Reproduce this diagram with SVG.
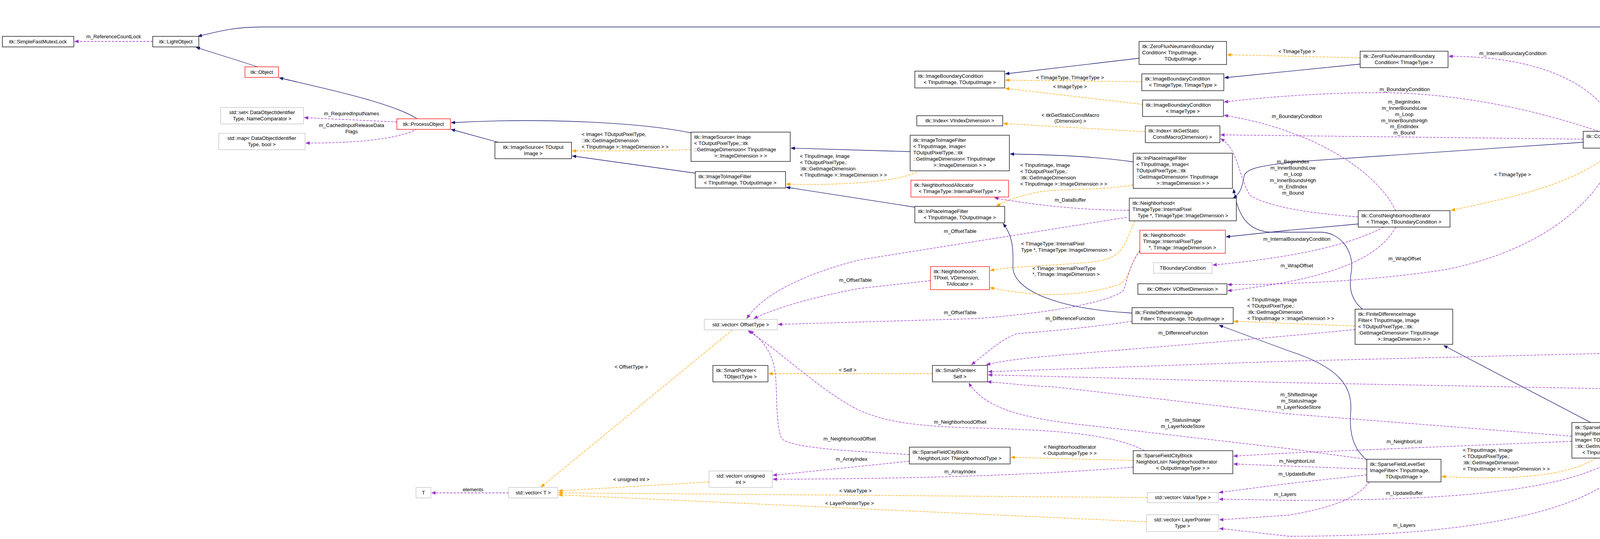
<svg xmlns="http://www.w3.org/2000/svg" width="6315" height="1379" viewBox="0 0 6315 1379">
<style>
.n rect{fill:#fff;stroke:#000;stroke-width:1.3}
.r rect{stroke:#ff0000}
.g rect{stroke:#bfbfbf}
.sel rect{fill:#bfbfbf}
text{font-family:"Liberation Sans",Arial,sans-serif;font-size:13px;fill:#000}
.m{text-anchor:middle}
.b{fill:none;stroke:#191970;stroke-width:1.3;marker-end:url(#ab)}
.o{fill:none;stroke:#ffa500;stroke-width:1.3;stroke-dasharray:6,3;marker-end:url(#ao)}
.p{fill:none;stroke:#9a32cd;stroke-width:1.3;stroke-dasharray:6,3;marker-end:url(#ap)}
</style>
<defs>
<marker id="ab" markerWidth="11" markerHeight="9" refX="10" refY="4.5" orient="auto" markerUnits="userSpaceOnUse"><path d="M0,0 L11,4.5 L0,9 z" fill="#191970"/></marker>
<marker id="ao" markerWidth="11" markerHeight="9" refX="10" refY="4.5" orient="auto" markerUnits="userSpaceOnUse"><path d="M0,0 L11,4.5 L0,9 z" fill="#ffa500"/></marker>
<marker id="ap" markerWidth="11" markerHeight="9" refX="10" refY="4.5" orient="auto" markerUnits="userSpaceOnUse"><path d="M0,0 L11,4.5 L0,9 z" fill="#9a32cd"/></marker>
</defs>
<rect width="6315" height="1379" fill="#fff"/>
<g id="connectors">
<path class="b" d="M660,171 L502,121"/>
<path class="b" d="M1068,304 C1000,260 800,220 715,199"/>
<path class="b" d="M1275,364 L1155,331"/>
<path class="b" d="M1769,340 C1650,315 1400,300 1155,314"/>
<path class="b" d="M1780,443 L1465,399"/>
<path class="b" d="M2330,388 C2200,384 2100,381 2025,379"/>
<path class="b" d="M2342,530 L2013,479"/>
<path class="b" d="M2901,414 C2800,400 2700,396 2586,394"/>
<path class="b" d="M2898,801 C2700,790 2590,740 2593,680 C2595,630 2590,600 2568,572"/>
<path class="b" d="M3488,791 C3450,760 3455,720 3460,690 C3465,640 3430,594 3380,594 L3250,594 C3200,590 3170,560 3158,484"/>
<path class="b" d="M4072,1081 L3696,884"/>
<path class="b" d="M5817,996 C5700,1060 5550,1099 5400,1099 L4500,1099 C4420,1100 4350,1106 4302,1112"/>
<path class="b" d="M6056,942 L6007,948"/>
<path class="b" d="M3499,1177 C3455,1140 3455,1090 3458,1050 C3462,990 3430,940 3300,898 L3121,832"/>
<path class="b" d="M4958,153 L4655,153"/>
<path class="b" d="M4493,132 C4420,100 4300,69 4177,69 L673,69 C600,69 560,80 507,93"/>
<path class="b" d="M5403,937 L5046,177"/>
<path class="b" d="M2916,149 L2574,189"/>
<path class="b" d="M3482,164 L3135,199"/>
<path class="b" d="M4053,364 L3300,415 C3230,425 3190,430 3185,450 C3180,480 3175,495 3157,507"/>
<path class="b" d="M3477,573 L3300,589 L3139,606"/>

<path class="o" d="M1769,383 C1650,386 1550,386 1465,386"/>
<path class="o" d="M2347,440 C2300,465 2150,475 2013,471"/>
<path class="o" d="M2901,473 C2800,490 2700,480 2640,495 C2600,505 2570,515 2551,528"/>
<path class="o" d="M2923,209 L2574,205"/>
<path class="o" d="M2925,267 L2574,226"/>
<path class="o" d="M2932,337 L2569,316"/>
<path class="o" d="M3482,148 L3142,140"/>
<path class="o" d="M4132,381 C4050,470 3850,510 3715,538"/>
<path class="o" d="M2905,565 C2880,620 2880,660 2800,670 C2700,680 2600,680 2535,692"/>
<path class="o" d="M2918,640 C2890,680 2890,720 2860,730 C2760,760 2650,760 2535,736"/>
<path class="o" d="M1875,844 L1385,1246"/>
<path class="o" d="M1815,1233 L1430,1256"/>
<path class="o" d="M2937,1273 L1430,1261"/>
<path class="o" d="M2935,1335 L1430,1266"/>
<path class="o" d="M2387,956 L1968,956"/>
<path class="o" d="M2901,1178 L2588,1170"/>
<path class="o" d="M3469,834 L3159,822"/>
<path class="o" d="M4085,1172 C4000,1230 3800,1225 3691,1219"/>
<path class="o" d="M4910,964 L4643,966"/>

<path class="p" d="M391,106 L191,106"/>
<path class="p" d="M1016,312 L779,301"/>
<path class="p" d="M1068,330 C1030,350 950,366 783,366"/>
<path class="p" d="M4455,44 L4201,22"/>
<path class="p" d="M4958,136 L4658,75"/>
<path class="p" d="M4508,177 L4212,336"/>
<path class="p" d="M4142,336 C4100,220 3950,144 3709,144"/>
<path class="p" d="M4092,336 C3900,270 3700,237 3530,237 C3400,237 3250,247 3134,261"/>
<path class="p" d="M4053,356 L3125,345"/>
<path class="p" d="M4142,381 C4080,550 3900,650 3700,690 C3500,720 3300,728 3143,728"/>
<path class="p" d="M3573,539 C3520,430 3350,330 3134,295"/>
<path class="p" d="M3477,555 C3350,545 3250,530 3200,500 C3170,450 3170,380 3125,355"/>
<path class="p" d="M3542,581 C3450,630 3300,660 3105,678"/>
<path class="p" d="M3573,581 C3520,680 3350,720 3143,744"/>
<path class="p" d="M2891,538 C2750,538 2620,520 2546,506"/>
<path class="p" d="M2884,556 L2200,665 C2100,690 1960,740 1912,815"/>
<path class="p" d="M2382,718 L2200,738 C2080,760 1980,790 1930,815"/>
<path class="p" d="M2918,642 C2890,680 2885,720 2877,742 C2850,770 2700,800 2500,815 L1992,830"/>
<path class="p" d="M2898,822 C2700,850 2620,850 2600,855 C2560,870 2530,900 2487,933"/>
<path class="p" d="M3469,843 C3200,870 2800,900 2700,910 C2600,918 2560,925 2525,933"/>
<path class="p" d="M6056,907 C5950,897 5800,897 5600,897 L4400,897 L3300,924 L2530,951"/>
<path class="p" d="M5304,988 C5200,1005 5100,1009 5000,1008 L4400,1000 L3300,979 L2530,959"/>
<path class="p" d="M4024,1116 L3300,1059 L2700,990 C2600,985 2560,978 2528,977"/>
<path class="p" d="M3499,1175 L3300,1148 L2800,1090 C2600,1070 2520,1040 2480,980"/>
<path class="p" d="M3499,1200 L3158,1187"/>
<path class="p" d="M4024,1129 L3300,1159 L3158,1167"/>
<path class="p" d="M3499,1215 L3300,1237 L3121,1260"/>
<path class="p" d="M4140,1172 C4000,1260 3700,1280 3300,1280 L3121,1277"/>
<path class="p" d="M3505,1233 C3470,1280 3400,1300 3300,1318 L3122,1330"/>
<path class="p" d="M4180,1172 C4100,1300 3800,1372 3300,1372 L3122,1352"/>
<path class="p" d="M5752,967 L5535,967"/>
<path class="p" d="M5304,966 L5162,966"/>
<path class="p" d="M2328,1163 L2200,1155 C2120,1150 2010,1140 2000,1120 C1985,1080 1990,1000 1985,960 C1980,900 1950,870 1920,846"/>
<path class="p" d="M2930,1153 C2850,1110 2700,1100 2500,1095 C2300,1090 2250,1070 2200,1050 C2100,1000 2000,900 1915,846"/>
<path class="p" d="M2328,1180 L1979,1216"/>
<path class="p" d="M2901,1195 C2700,1212 2400,1225 1979,1226"/>
<path class="p" d="M1302,1261 L1105,1261"/>

<text class="m" x="291" y="98">m_ReferenceCountLock</text>
<text class="m" x="900" y="295">m_RequiredInputNames</text>
<text class="m" x="900" y="325">m_CachedInputReleaseData</text>
<text class="m" x="900" y="341">Flags</text>
<text x="1489" y="348">&lt; Image&lt; TOutputPixelType,</text>
<text x="1489" y="364">::itk::GetImageDimension</text>
<text x="1489" y="380">&lt; TInputImage &gt;::ImageDimension &gt; &gt;</text>
<text x="2048" y="404">&lt; TInputImage, Image</text>
<text x="2048" y="420">&lt; TOutputPixelType,:</text>
<text x="2048" y="436">:itk::GetImageDimension</text>
<text x="2048" y="452">&lt; TInputImage &gt;::ImageDimension &gt; &gt;</text>
<text x="2612" y="427">&lt; TInputImage, Image</text>
<text x="2612" y="443">&lt; TOutputPixelType,:</text>
<text x="2612" y="459">:itk::GetImageDimension</text>
<text x="2612" y="475">&lt; TInputImage &gt;::ImageDimension &gt; &gt;</text>
<text x="3193" y="771">&lt; TInputImage, Image</text>
<text x="3193" y="787">&lt; TOutputPixelType,:</text>
<text x="3193" y="803">:itk::GetImageDimension</text>
<text x="3193" y="819">&lt; TInputImage &gt;::ImageDimension &gt; &gt;</text>
<text x="3745" y="1156">&lt; TInputImage, Image</text>
<text x="3745" y="1172">&lt; TOutputPixelType,:</text>
<text x="3745" y="1188">:itk::GetImageDimension</text>
<text x="3745" y="1204">&lt; TInputImage &gt;::ImageDimension &gt; &gt;</text>
<text class="m" x="2739" y="203">&lt; TImageType, TImageType &gt;</text>
<text class="m" x="2739" y="226">&lt; ImageType &gt;</text>
<text class="m" x="2740" y="299">&lt; itkGetStaticConstMacro</text>
<text class="m" x="2740" y="314">(Dimension) &gt;</text>
<text class="m" x="3320" y="136">&lt; TImageType &gt;</text>
<text class="m" x="3872" y="451">&lt; TImageType &gt;</text>
<text class="m" x="2740" y="516">m_DataBuffer</text>
<text class="m" x="2458" y="596">m_OffsetTable</text>
<text x="2614" y="628">&lt; TImageType::InternalPixel</text>
<text x="2614" y="644">Type *, TImageType::ImageDimension &gt;</text>
<text x="2643" y="691">&lt; TImage::InternalPixelType</text>
<text x="2643" y="706">*, TImage::ImageDimension &gt;</text>
<text class="m" x="2190" y="721">m_OffsetTable</text>
<text class="m" x="2458" y="804">m_OffsetTable</text>
<text class="m" x="3873" y="141">m_InternalBoundaryCondition</text>
<text class="m" x="3596" y="233">m_BoundaryCondition</text>
<text class="m" x="3595" y="265">m_BeginIndex</text>
<text class="m" x="3595" y="281">m_InnerBoundsLow</text>
<text class="m" x="3595" y="297">m_Loop</text>
<text class="m" x="3595" y="313">m_InnerBoundsHigh</text>
<text class="m" x="3595" y="328">m_EndIndex</text>
<text class="m" x="3595" y="344">m_Bound</text>
<text class="m" x="3320" y="302">m_BoundaryCondition</text>
<text class="m" x="3310" y="418">m_BeginIndex</text>
<text class="m" x="3310" y="434">m_InnerBoundsLow</text>
<text class="m" x="3310" y="450">m_Loop</text>
<text class="m" x="3310" y="466">m_InnerBoundsHigh</text>
<text class="m" x="3310" y="482">m_EndIndex</text>
<text class="m" x="3310" y="498">m_Bound</text>
<text class="m" x="3320" y="616">m_InternalBoundaryCondition</text>
<text class="m" x="3596" y="666">m_WrapOffset</text>
<text class="m" x="3320" y="684">m_WrapOffset</text>
<text class="m" x="4380" y="216">m_Radius</text>
<text class="m" x="4380" y="31">m_InternalArray</text>
<text class="m" x="4784" y="76">m_ZeroVectorConstant</text>
<text class="m" x="1616" y="943">&lt; OffsetType &gt;</text>
<text class="m" x="1616" y="1231">&lt; unsigned int &gt;</text>
<text class="m" x="2190" y="1260">&lt; ValueType &gt;</text>
<text class="m" x="2175" y="1292">&lt; LayerPointerType &gt;</text>
<text class="m" x="2170" y="951">&lt; Self &gt;</text>
<text class="m" x="1211" y="1257">elements</text>
<text class="m" x="2175" y="1127">m_NeighborhoodOffset</text>
<text class="m" x="2458" y="1084">m_NeighborhoodOffset</text>
<text class="m" x="2180" y="1179">m_ArrayIndex</text>
<text class="m" x="2458" y="1211">m_ArrayIndex</text>
<text class="m" x="2739" y="1148">&lt; NeighborhoodIterator</text>
<text class="m" x="2739" y="1164">&lt; OutputImageType &gt; &gt;</text>
<text class="m" x="2740" y="819">m_DifferenceFunction</text>
<text class="m" x="3029" y="856">m_DifferenceFunction</text>
<text class="m" x="4558" y="892">m_ThresholdFunction</text>
<text class="m" x="4164" y="957">m_VectorInterpolator</text>
<text class="m" x="4164" y="973">m_AdvectionImage</text>
<text class="m" x="4164" y="989">m_Interpolator</text>
<text class="m" x="3325" y="1014">m_ShiftedImage</text>
<text class="m" x="3325" y="1030">m_StatusImage</text>
<text class="m" x="3325" y="1046">m_LayerNodeStore</text>
<text class="m" x="3028" y="1079">m_StatusImage</text>
<text class="m" x="3028" y="1095">m_LayerNodeStore</text>
<text class="m" x="3595" y="1134">m_NeighborList</text>
<text class="m" x="3320" y="1184">m_NeighborList</text>
<text class="m" x="3320" y="1217">m_UpdateBuffer</text>
<text class="m" x="3595" y="1266">m_UpdateBuffer</text>
<text class="m" x="3290" y="1269">m_Layers</text>
<text class="m" x="3595" y="1348">m_Layers</text>
<text class="m" x="4784" y="943">&lt; typename VectorInterpolator</text>
<text class="m" x="4784" y="959">Type::OutputType, VectorType &gt;</text>
<text class="m" x="5234" y="960">m_VectorCast</text>
<text class="m" x="5644" y="963">m_SegmentationFunction</text>
</g>

<g id="n1" class="n"><rect x="6" y="93" width="183" height="27"/><text class="m" x="97" y="111">itk::SimpleFastMutexLock</text></g>
<g id="n2" class="n"><rect x="391" y="93" width="118" height="27"/><text class="m" x="450" y="111">itk::LightObject</text></g>
<g id="n3" class="n r"><rect x="627" y="171" width="86" height="27"/><text class="m" x="670" y="189">itk::Object</text></g>
<g id="n4" class="n r"><rect x="1016" y="304" width="137" height="27"/><text class="m" x="1084" y="322">itk::ProcessObject</text></g>
<g id="n5" class="n g"><rect x="565" y="275" width="212" height="42"/><text class="m" x="671" y="292">std::set&lt; DataObjectIdentifier</text><text class="m" x="671" y="308">Type, NameComparator &gt;</text></g>
<g id="n6" class="n g"><rect x="560" y="341" width="221" height="42"/><text class="m" x="670" y="358">std::map&lt; DataObjectIdentifier</text><text class="m" x="670" y="374">Type, bool &gt;</text></g>
<g id="n7" class="n"><rect x="1267" y="364" width="196" height="42"/><text class="m" x="1365" y="381">itk::ImageSource&lt; TOutput</text><text class="m" x="1365" y="397">Image &gt;</text></g>
<g id="n8" class="n"><rect x="1769" y="338" width="254" height="75"/><text x="1777" y="355">itk::ImageSource&lt; Image</text><text x="1777" y="371">&lt; TOutputPixelType,::itk</text><text x="1777" y="387">::GetImageDimension&lt; TInputImage</text><text class="m" x="1896" y="403">&gt;::ImageDimension &gt; &gt;</text></g>
<g id="n9" class="n"><rect x="1780" y="439" width="231" height="42"/><text x="1788" y="456">itk::ImageToImageFilter</text><text class="m" x="1895" y="472">&lt; TInputImage, TOutputImage &gt;</text></g>
<g id="n10" class="n"><rect x="2330" y="346" width="254" height="91"/><text x="2338" y="363">itk::ImageToImageFilter</text><text x="2338" y="379">&lt; TInputImage, Image&lt;</text><text x="2338" y="395">TOutputPixelType,::itk</text><text x="2338" y="411">::GetImageDimension&lt; TInputImage</text><text class="m" x="2457" y="427">&gt;::ImageDimension &gt; &gt;</text></g>
<g id="n11" class="n"><rect x="2901" y="392" width="254" height="90"/><text x="2909" y="409">itk::InPlaceImageFilter</text><text x="2909" y="425">&lt; TInputImage, Image&lt;</text><text x="2909" y="441">TOutputPixelType,::itk</text><text x="2909" y="457">::GetImageDimension&lt; TInputImage</text><text class="m" x="3028" y="473">&gt;::ImageDimension &gt; &gt;</text></g>
<g id="n12" class="n"><rect x="2342" y="528" width="230" height="42"/><text x="2350" y="545">itk::InPlaceImageFilter</text><text class="m" x="2457" y="561">&lt; TInputImage, TOutputImage &gt;</text></g>
<g id="n13" class="n r"><rect x="2332" y="461" width="250" height="43"/><text x="2340" y="478">itk::NeighborhoodAllocator</text><text class="m" x="2457" y="494">&lt; TImageType::InternalPixelType * &gt;</text></g>
<g id="n14" class="n"><rect x="2342" y="182" width="230" height="43"/><text x="2350" y="199">itk::ImageBoundaryCondition</text><text class="m" x="2457" y="215">&lt; TInputImage, TOutputImage &gt;</text></g>
<g id="n15" class="n"><rect x="2916" y="106" width="224" height="59"/><text x="2924" y="123">itk::ZeroFluxNeumannBoundary</text><text x="2924" y="139">Condition&lt; TInputImage,</text><text class="m" x="3028" y="155">TOutputImage &gt;</text></g>
<g id="n16" class="n"><rect x="2923" y="189" width="210" height="43"/><text x="2931" y="206">itk::ImageBoundaryCondition</text><text class="m" x="3028" y="222">&lt; TImageType, TImageType &gt;</text></g>
<g id="n17" class="n"><rect x="2925" y="256" width="207" height="42"/><text x="2933" y="273">itk::ImageBoundaryCondition</text><text class="m" x="3028" y="289">&lt; ImageType &gt;</text></g>
<g id="n18" class="n"><rect x="2347" y="296" width="220" height="26"/><text class="m" x="2457" y="313">itk::Index&lt; VIndexDimension &gt;</text></g>
<g id="n19" class="n"><rect x="2932" y="322" width="191" height="43"/><text x="2940" y="339">itk::Index&lt; itkGetStatic</text><text class="m" x="3027" y="355">ConstMacro(Dimension) &gt;</text></g>
<g id="n20" class="n"><rect x="2891" y="507" width="274" height="58"/><text x="2899" y="524">itk::Neighborhood&lt;</text><text x="2899" y="540">TImageType::InternalPixel</text><text class="m" x="3028" y="556">Type *, TImageType::ImageDimension &gt;</text></g>
<g id="n21" class="n r"><rect x="2918" y="589" width="219" height="59"/><text x="2926" y="606">itk::Neighborhood&lt;</text><text x="2926" y="622">TImage::InternalPixelType</text><text class="m" x="3027" y="638">*, TImage::ImageDimension &gt;</text></g>
<g id="n22" class="n g"><rect x="2953" y="672" width="150" height="27"/><text class="m" x="3028" y="690">TBoundaryCondition</text></g>
<g id="n23" class="n r"><rect x="2382" y="682" width="151" height="59"/><text x="2390" y="699">itk::Neighborhood&lt;</text><text x="2390" y="715">TPixel, VDimension,</text><text class="m" x="2457" y="731">TAllocator &gt;</text></g>
<g id="n24" class="n"><rect x="2913" y="726" width="228" height="27"/><text class="m" x="3027" y="744">itk::Offset&lt; VOffsetDimension &gt;</text></g>
<g id="n25" class="n"><rect x="2898" y="787" width="259" height="41"/><text x="2906" y="804">itk::FiniteDifferenceImage</text><text class="m" x="3027" y="820">Filter&lt; TInputImage, TOutputImage &gt;</text></g>
<g id="n26" class="n"><rect x="2387" y="935" width="141" height="42"/><text x="2395" y="952">itk::SmartPointer&lt;</text><text class="m" x="2457" y="968">Self &gt;</text></g>
<g id="n27" class="n"><rect x="1825" y="935" width="141" height="42"/><text x="1833" y="952">itk::SmartPointer&lt;</text><text class="m" x="1895" y="968">TObjectType &gt;</text></g>
<g id="n28" class="n g"><rect x="1803" y="817" width="187" height="27"/><text class="m" x="1896" y="835">std::vector&lt; OffsetType &gt;</text></g>
<g id="n29" class="n g"><rect x="1302" y="1247" width="126" height="27"/><text class="m" x="1365" y="1265">std::vector&lt; T &gt;</text></g>
<g id="n30" class="n g"><rect x="1065" y="1247" width="38" height="27"/><text class="m" x="1084" y="1265">T</text></g>
<g id="n31" class="n g"><rect x="1815" y="1205" width="162" height="42"/><text class="m" x="1896" y="1222">std::vector&lt; unsigned</text><text class="m" x="1896" y="1238">int &gt;</text></g>
<g id="n32" class="n"><rect x="2328" y="1144" width="258" height="43"/><text x="2336" y="1161">itk::SparseFieldCityBlock</text><text class="m" x="2457" y="1177">NeighborList&lt; TNeighborhoodType &gt;</text></g>
<g id="n33" class="n"><rect x="2901" y="1153" width="255" height="59"/><text x="2909" y="1170">itk::SparseFieldCityBlock</text><text x="2909" y="1186">NeighborList&lt; NeighborhoodIterator</text><text class="m" x="3028" y="1202">&lt; OutputImageType &gt; &gt;</text></g>
<g id="n34" class="n g"><rect x="2937" y="1260" width="182" height="26"/><text class="m" x="3028" y="1277">std::vector&lt; ValueType &gt;</text></g>
<g id="n35" class="n g"><rect x="2935" y="1317" width="185" height="43"/><text class="m" x="3027" y="1334">std::vector&lt; LayerPointer</text><text class="m" x="3027" y="1350">Type &gt;</text></g>
<g id="n36" class="n"><rect x="3482" y="131" width="225" height="42"/><text x="3490" y="148">itk::ZeroFluxNeumannBoundary</text><text class="m" x="3594" y="164">Condition&lt; TImageType &gt;</text></g>
<g id="n37" class="n"><rect x="4053" y="336" width="219" height="43"/><text x="4061" y="353">itk::ConstNeighborhoodIterator</text><text class="m" x="4162" y="369">&lt; TImageType &gt;</text></g>
<g id="n38" class="n"><rect x="3477" y="539" width="235" height="42"/><text x="3485" y="556">itk::ConstNeighborhoodIterator</text><text class="m" x="3594" y="572">&lt; TImage, TBoundaryCondition &gt;</text></g>
<g id="n39" class="n g"><rect x="4126" y="5" width="73" height="27"/><text class="m" x="4162" y="23">VLength</text></g>
<g id="n40" class="n"><rect x="4455" y="32" width="200" height="43"/><text x="4463" y="49">itk::FixedArray&lt; TValueType,</text><text class="m" x="4555" y="65">VLength &gt;</text></g>
<g id="n41" class="n"><rect x="4458" y="132" width="195" height="43"/><text x="4466" y="149">itk::FiniteDifferenceFunction</text><text class="m" x="4555" y="165">&lt; TImageType &gt;</text></g>
<g id="n42" class="n"><rect x="4958" y="132" width="153" height="43"/><text x="4966" y="149">itk::LevelSetFunction</text><text class="m" x="5034" y="165">&lt; TImageType &gt;</text></g>
<g id="n43" class="n"><rect x="3469" y="791" width="250" height="90"/><text x="3477" y="808">itk::FiniteDifferenceImage</text><text x="3477" y="824">Filter&lt; TInputImage, Image</text><text x="3477" y="840">&lt; TOutputPixelType,::itk:</text><text x="3477" y="856">:GetImageDimension&lt; TInputImage</text><text class="m" x="3594" y="872">&gt;::ImageDimension &gt; &gt;</text></g>
<g id="n44" class="n"><rect x="4024" y="1081" width="276" height="91"/><text x="4032" y="1098">itk::SparseFieldLevelSet</text><text x="4032" y="1114">ImageFilter&lt; TInputImage,</text><text x="4032" y="1130">Image&lt; TOutputPixelType,</text><text x="4032" y="1146">::itk::GetImageDimension</text><text class="m" x="4162" y="1162">&lt; TInputImage &gt;::ImageDimension &gt; &gt;</text></g>
<g id="n45" class="n"><rect x="3499" y="1175" width="190" height="58"/><text x="3507" y="1192">itk::SparseFieldLevelSet</text><text x="3507" y="1208">ImageFilter&lt; TInputImage,</text><text class="m" x="3594" y="1224">TOutputImage &gt;</text></g>
<g id="n46" class="n"><rect x="4470" y="945" width="171" height="43"/><text x="4478" y="962">itk::Functor::VectorCast</text><text class="m" x="4555" y="978">&lt; TInput, TOutput &gt;</text></g>
<g id="n47" class="n"><rect x="4910" y="935" width="250" height="58"/><text x="4918" y="952">itk::Functor::VectorCast</text><text x="4918" y="968">&lt; typename VectorInterpolatorType</text><text class="m" x="5035" y="984">::OutputType, VectorType &gt;</text></g>
<g id="n48" class="n"><rect x="5304" y="937" width="229" height="59"/><text x="5312" y="954">itk::SegmentationLevelSet</text><text x="5312" y="970">Function&lt; TImageType, TFeature</text><text class="m" x="5418" y="986">ImageType &gt;</text></g>
<g id="n49" class="n"><rect x="5752" y="937" width="253" height="59"/><text x="5760" y="954">itk::SegmentationLevelSet</text><text x="5760" y="970">ImageFilter&lt; TInputImage,</text><text class="m" x="5878" y="986">TFeatureImage, TOutputPixelType &gt;</text></g>
<g id="n50" class="n sel"><rect x="6056" y="894" width="252" height="59"/><text x="6064" y="911">itk::ThresholdSegmentation</text><text x="6064" y="927">LevelSetImageFilter&lt; TInputImage,</text><text class="m" x="6182" y="943">TFeatureImage, TOutputPixelType &gt;</text></g>
</svg>
